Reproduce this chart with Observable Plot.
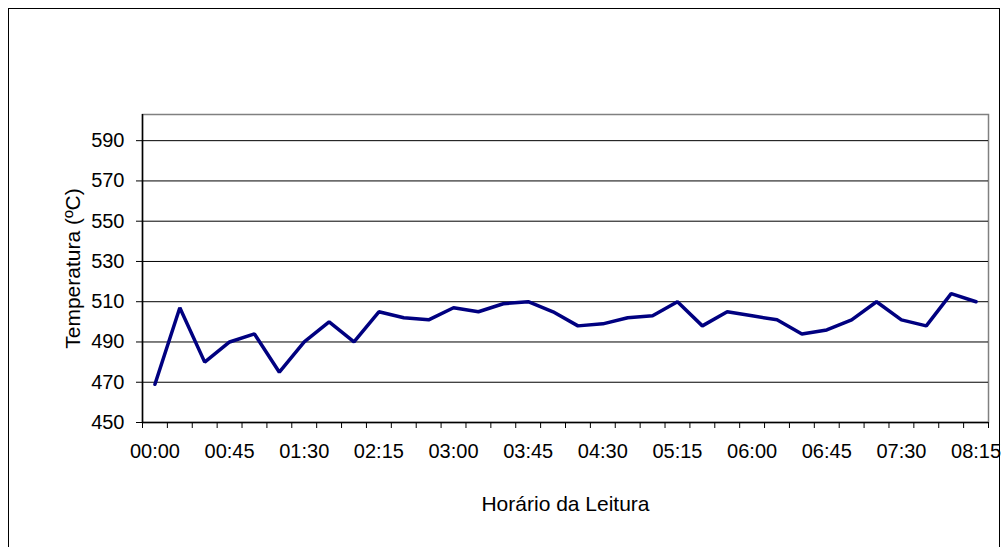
<!DOCTYPE html>
<html><head><meta charset="utf-8">
<script src="https://cdn.jsdelivr.net/npm/d3@7"></script>
<script src="https://cdn.jsdelivr.net/npm/@observablehq/plot@0.6"></script>
<style>
body{margin:0;background:#fff;}
#wrap{position:relative;width:1006px;height:547px;overflow:hidden;}
#border{position:absolute;left:8px;top:8px;width:992px;height:560px;border:1px solid #000;box-sizing:border-box;}
#chart{position:absolute;left:0;top:0;}
</style></head>
<body><div id="wrap"><div id="border"></div><div id="chart"></div></div>
<script>
const times = ["00:00","00:15","00:30","00:45","01:00","01:15","01:30","01:45","02:00","02:15","02:30","02:45","03:00","03:15","03:30","03:45","04:00","04:15","04:30","04:45","05:00","05:15","05:30","05:45","06:00","06:15","06:30","06:45","07:00","07:15","07:30","07:45","08:00","08:15"];
const temps = [469,507,480,490,494,475,490,500,490,505,502,501,507,505,509,510,505,498,499,502,503,510,498,505,503,501,494,496,501,510,501,498,514,510];
const yTicks = [450,470,490,510,530,550,570,590];
const yMax = 603;
const xTitle = "Horário da Leitura";
const yTitle = "Temperatura (ºC)";

const data = times.map((t, i) => ({i, t, v: temps[i]}));
const boundaries = d3.range(times.length + 1).map(k => k - 0.5);
const labelIdx = d3.range(0, times.length, 3);

const chart = Plot.plot({
  width: 1006, height: 547,
  marginLeft: 142, marginRight: 18, marginTop: 114, marginBottom: 125,
  style: {fontFamily: "'Liberation Sans', Arial, sans-serif", fontSize: "20px", color: "#000", background: "transparent"},
  x: {type: "linear", domain: [-0.5, times.length - 0.5]},
  y: {domain: [yTicks[0], yMax]},
  marks: [
    Plot.frame({stroke: "#808080", strokeWidth: 1.5}),
    Plot.ruleY(yTicks.slice(1), {stroke: "#000", strokeWidth: 1}),
    Plot.ruleX([-0.5], {stroke: "#000", strokeWidth: 1.5}),
    Plot.ruleY([yTicks[0]], {stroke: "#000", strokeWidth: 1.5}),
    Plot.axisY({ticks: yTicks, tickSize: 6, tickPadding: 12, label: null, fontSize: 20}),
    Plot.axisX({ticks: boundaries, tickSize: 6, tickFormat: () => "", label: null}),
    Plot.axisX({ticks: labelIdx, tickSize: 0, tickPadding: 21, tickFormat: i => times[i], label: null, fontSize: 20}),
    Plot.line(data, {x: "i", y: "v", stroke: "#000080", strokeWidth: 3.5, strokeLinejoin: "miter"}),
    Plot.text([yTitle], {frameAnchor: "left", textAnchor: "middle", text: d => d, rotate: -90, dx: -69, dy: 0, fontSize: 21}),
    Plot.text([xTitle], {frameAnchor: "bottom", text: d => d, dy: 88, fontSize: 21})
  ]
});
document.getElementById("chart").appendChild(chart);
</script>
</body></html>
